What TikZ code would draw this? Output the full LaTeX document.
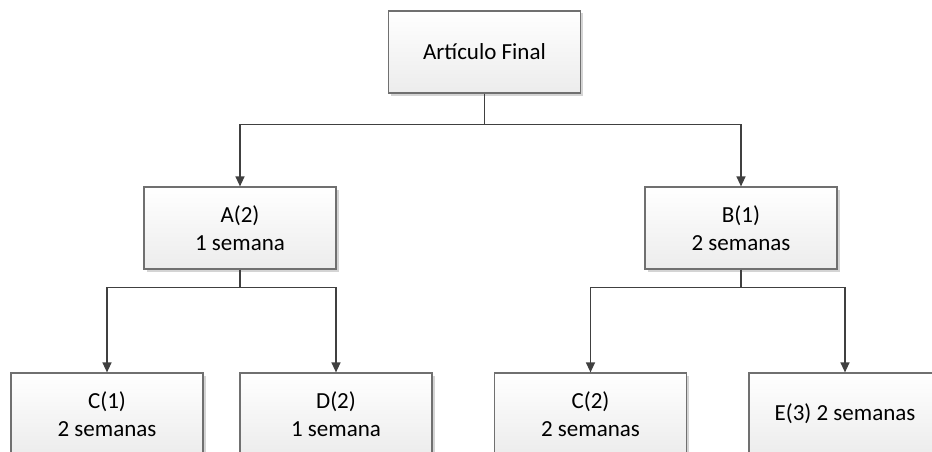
\documentclass[tikz,border=0pt]{standalone}
\usepackage{fontspec}
\setmainfont{Carlito}
\usetikzlibrary{arrows.meta,shadows}
\definecolor{linegray}{HTML}{404040}
\definecolor{boxedge}{HTML}{707070}
\definecolor{boxbottom}{HTML}{ECECEC}
\definecolor{shadowgray}{HTML}{D4D4D4}
\tikzset{
  itembox/.style={rectangle, draw=boxedge, line width=1.2pt,
    top color=white, bottom color=boxbottom,
    minimum width=192pt, minimum height=82pt, inner sep=2pt,
    align=center, font=\fontsize{23}{28}\selectfont,
    drop shadow={shadow xshift=2.5pt, shadow yshift=-2.5pt, fill=shadowgray, opacity=1}},
  link/.style={draw=linegray, line width=1.3pt,
    -{Triangle[width=9pt,length=10pt,fill=linegray]}}
}
\begin{document}
\begin{tikzpicture}[x=1pt,y=-1pt]
\useasboundingbox (0,0) rectangle (932,452);
% tree of parts
\node[itembox] (top) at (484.5,52) {Artículo Final};
\node[itembox] (A) at (240,228) {A(2)\\1 semana};
\node[itembox] (B) at (741,228) {B(1)\\2 semanas};
\node[itembox] (C1) at (107,414) {C(1)\\2 semanas};
\node[itembox] (D) at (336,414) {D(2)\\1 semana};
\node[itembox] (C2) at (590.5,414) {C(2)\\2 semanas};
\node[itembox] (E) at (845,414) {E(3) 2 semanas};
% connectors
\draw[link] (top.south) -- ++(0,31) -| (A.north);
\draw[link] (top.south) -- ++(0,31) -| (B.north);
\draw[link] (A.south) -- ++(0,18) -| (C1.north);
\draw[link] (A.south) -- ++(0,18) -| (D.north);
\draw[link] (B.south) -- ++(0,18) -| (C2.north);
\draw[link] (B.south) -- ++(0,18) -| (E.north);
\end{tikzpicture}
\end{document}
